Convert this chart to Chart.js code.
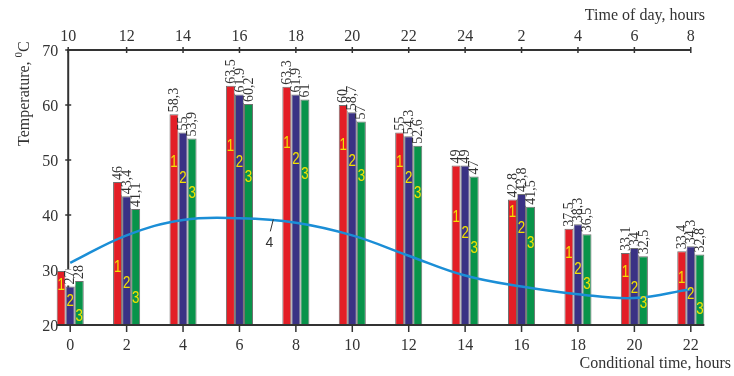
<!DOCTYPE html>
<html>
<head>
<meta charset="utf-8">
<script src="https://cdn.jsdelivr.net/npm/chart.js@4/dist/chart.umd.min.js"></script>
<style>
  html, body { margin: 0; padding: 0; background: #ffffff; }
  #c { display: block; }
</style>
</head>
<body>
<canvas id="c" width="734" height="376"></canvas>
<script>
// ---- data ----
const conditionalTime = ['0', '2', '4', '6', '8', '10', '12', '14', '16', '18', '20', '22'];
const timeOfDay = ['10', '12', '14', '16', '18', '20', '22', '24', '2', '4', '6', '8'];
const series1 = [29.8, 46, 58.3, 63.5, 63.3, 60, 55, 49, 42.8, 37.5, 33.1, 33.4];
const series2 = [27, 43.4, 55, 61.9, 61.9, 58.7, 54.3, 49, 43.8, 38.3, 34, 34.3];
const series3 = [28, 41.1, 53.9, 60.2, 61, 57, 52.6, 47, 41.5, 36.5, 32.5, 32.8];
const curve4 = [31.3, 36.3, 39.1, 39.4, 38.6, 36.3, 32.6, 29.0, 27.0, 25.6, 24.9, 26.5];
const yTicks = [20, 30, 40, 50, 60, 70];
const hiddenValueLabels = [[0], [], []]; // per series: indexes without a printed value
const digitLevel = [27.3, 30.4, 49.6, 52.4, 53.1, 52.7, 49.5, 39.5, 40.5, 33.1, 29.5, 28.4];

const seriesList = [series1, series2, series3];
const barColors = ['#e31e26', '#3a3284', '#08934a'];
const TEXT = '#333333';
const SERIF = '"Liberation Serif", "Times New Roman", serif';

function fmt(v) { return String(v).replace('.', ','); }

const axesPlugin = {
  id: 'customAxes',
  beforeDatasetsDraw(chart) {
    const ctx = chart.ctx;
    const xs = chart.scales.x, ys = chart.scales.y;
    const ca = chart.chartArea;
    const axisX = xs.getPixelForValue(0) - 2;
    const lastX = xs.getPixelForValue(conditionalTime.length - 1);
    ctx.save();
    ctx.strokeStyle = TEXT;
    ctx.fillStyle = TEXT;
    // left axis
    ctx.lineWidth = 2;
    ctx.beginPath();
    ctx.moveTo(axisX, ca.top - 1);
    ctx.lineTo(axisX, ca.bottom);
    ctx.stroke();
    ctx.lineWidth = 1.5;
    ctx.font = '16px ' + SERIF;
    ctx.textAlign = 'right';
    ctx.textBaseline = 'middle';
    yTicks.forEach(t => {
      const y = ys.getPixelForValue(t);
      ctx.beginPath();
      ctx.moveTo(axisX - 3, y);
      ctx.lineTo(axisX + 3, y);
      ctx.stroke();
      ctx.fillText(String(t), axisX - 10, y + 2);
    });
    // top axis
    ctx.lineWidth = 2;
    ctx.beginPath();
    ctx.moveTo(axisX - 1, ca.top);
    ctx.lineTo(lastX, ca.top);
    ctx.stroke();
    ctx.lineWidth = 1.5;
    ctx.textAlign = 'center';
    timeOfDay.forEach((lab, i) => {
      const x = i === 0 ? axisX : xs.getPixelForValue(i);
      ctx.beginPath();
      ctx.moveTo(x, ca.top - 3);
      ctx.lineTo(x, ca.top + 3);
      ctx.stroke();
      ctx.fillText(lab, x, ca.top - 13);
    });
    ctx.textAlign = 'right';
    ctx.fillText('Time of day, hours', 705, 16);
    // y-axis title
    ctx.save();
    ctx.translate(25, 146);
    ctx.rotate(-Math.PI / 2);
    ctx.textAlign = 'left';
    ctx.textBaseline = 'middle';
    ctx.font = '16px ' + SERIF;
    const t1 = 'Temperature, ';
    ctx.fillText(t1, 0, 0);
    let w = ctx.measureText(t1).width;
    ctx.font = '11px ' + SERIF;
    ctx.fillText('0', w, -6);
    w += ctx.measureText('0').width;
    ctx.font = '16px ' + SERIF;
    ctx.fillText('C', w, 0);
    ctx.restore();
    ctx.restore();
  },
  afterDatasetsDraw(chart) {
    const ctx = chart.ctx;
    const xs = chart.scales.x, ys = chart.scales.y;
    const ca = chart.chartArea;
    ctx.save();
    // bottom axis
    const m1 = chart.getDatasetMeta(1).data;
    const m3 = chart.getDatasetMeta(3).data;
    const left = m1[0].x - m1[0].width / 2;
    const right = m3[m3.length - 1].x + m3[m3.length - 1].width / 2;
    ctx.strokeStyle = TEXT;
    ctx.fillStyle = TEXT;
    ctx.lineWidth = 2;
    ctx.beginPath();
    ctx.moveTo(left, ca.bottom);
    ctx.lineTo(right, ca.bottom);
    ctx.stroke();
    ctx.lineWidth = 1.5;
    ctx.font = '16px ' + SERIF;
    ctx.textAlign = 'center';
    ctx.textBaseline = 'middle';
    conditionalTime.forEach((lab, i) => {
      const x = xs.getPixelForValue(i);
      ctx.beginPath();
      ctx.moveTo(x, ca.bottom);
      ctx.lineTo(x, ca.bottom + 7);
      ctx.stroke();
      ctx.fillText(lab, x, ca.bottom + 21);
    });
    ctx.textAlign = 'right';
    ctx.fillText('Conditional time, hours', 731, 364);

    // value labels (rotated) above bars
    ctx.font = '14px ' + SERIF;
    for (let s = 0; s < 3; s++) {
      const meta = chart.getDatasetMeta(s + 1);
      meta.data.forEach((el, i) => {
        if (hiddenValueLabels[s].includes(i)) return;
        const txt = fmt(seriesList[s][i]);
        ctx.save();
        ctx.translate(el.x, el.y - 1);
        ctx.rotate(-Math.PI / 2);
        const tw = ctx.measureText(txt).width;
        ctx.fillStyle = '#ffffff';
        ctx.fillRect(0, -5, tw + 2, 10);
        ctx.fillStyle = TEXT;
        ctx.textAlign = 'left';
        ctx.textBaseline = 'middle';
        ctx.fillText(txt, 1, 0.5);
        ctx.restore();
      });
    }

    // series digits inside bars (narrow glyphs)
    ctx.font = '17px "Liberation Sans", Arial, sans-serif';
    ctx.fillStyle = '#f2e200';
    ctx.textAlign = 'center';
    ctx.textBaseline = 'middle';
    const offs = [0, 16, 31];
    for (let s = 0; s < 3; s++) {
      const meta = chart.getDatasetMeta(s + 1);
      meta.data.forEach((el, i) => {
        const y = ys.getPixelForValue(digitLevel[i]) + offs[s];
        ctx.save();
        ctx.translate(el.x, y);
        ctx.scale(0.78, 1);
        ctx.fillText(String(s + 1), 0, 0);
        ctx.restore();
      });
    }

    // curve label "4" with leader
    const xa = xs.getPixelForValue(3), xb = xs.getPixelForValue(4);
    const lx = xa + 0.6 * (xb - xa);
    const ly = ys.getPixelForValue(39.2);
    ctx.strokeStyle = TEXT;
    ctx.lineWidth = 1;
    ctx.beginPath();
    ctx.moveTo(lx, ly);
    ctx.lineTo(lx - 3, ly + 12);
    ctx.stroke();
    ctx.fillStyle = TEXT;
    ctx.font = '14px "Liberation Sans", Arial, sans-serif';
    ctx.fillText('4', lx - 4, ly + 24);
    ctx.restore();
  }
};

new Chart(document.getElementById('c'), {
  type: 'bar',
  data: {
    labels: conditionalTime,
    datasets: [
      {
        type: 'line',
        label: '4',
        data: curve4,
        borderColor: '#1b8ed6',
        borderWidth: 2.5,
        pointRadius: 0,
        tension: 0.4,
        fill: false,
        order: 0
      },
      { label: '1', data: series1, backgroundColor: barColors[0], borderColor: '#707070', borderWidth: 1, order: 1 },
      { label: '2', data: series2, backgroundColor: barColors[1], borderColor: '#707070', borderWidth: 1, order: 1 },
      { label: '3', data: series3, backgroundColor: barColors[2], borderColor: '#707070', borderWidth: 1, order: 1 }
    ]
  },
  options: {
    responsive: false,
    animation: false,
    devicePixelRatio: 1,
    layout: { padding: { left: 42, right: 15, top: 50, bottom: 51 } },
    datasets: { bar: { categoryPercentage: 0.48, barPercentage: 1.0 } },
    scales: {
      x: { display: false, offset: true },
      y: { display: false, min: 20, max: 70 }
    },
    plugins: { legend: { display: false }, tooltip: { enabled: false } }
  },
  plugins: [axesPlugin]
});
</script>
</body>
</html>
